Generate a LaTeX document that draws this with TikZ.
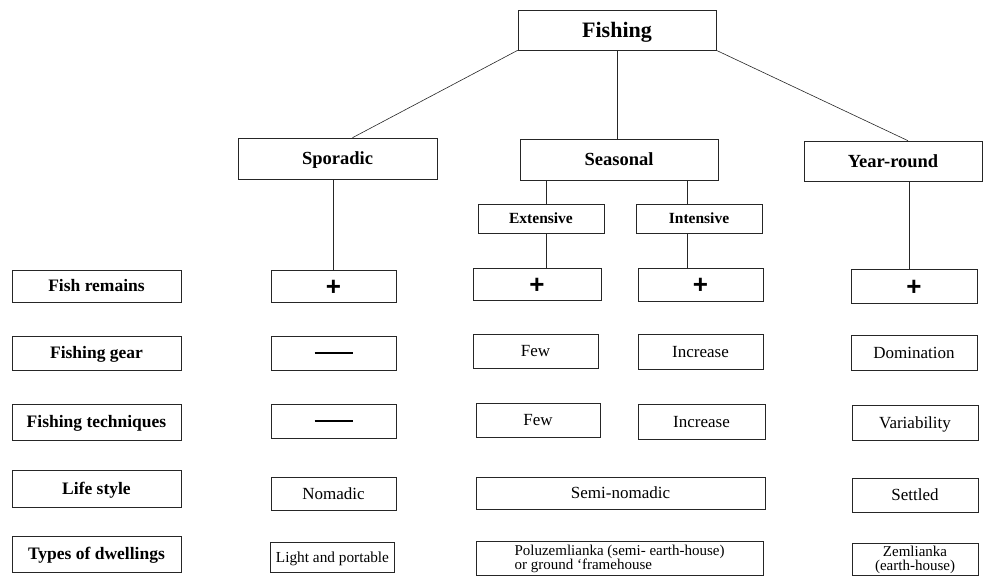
\documentclass[tikz,border=0pt]{standalone}
\usepackage{fontspec}
\setmainfont{Liberation Serif}
\setsansfont{Liberation Sans}

\tikzset{
  box/.style={draw=black!85,line width=0.6pt,rectangle,inner sep=0pt,text depth=0pt},
  head/.style={box,minimum height=41,text height=12.2pt,font=\fontsize{18.5}{20}\selectfont\bfseries},
  sub/.style={box,minimum width=126,minimum height=29,text height=10.2pt,font=\fontsize{15.5}{17}\selectfont\bfseries},
  rowlabel/.style={box,minimum width=169,minimum height=34,text height=11.5pt,font=\fontsize{17.5}{19}\selectfont\bfseries},
  cell/.style={box,minimum width=126,minimum height=34,text height=11.2pt,font=\fontsize{17}{19}\selectfont},
  twoline/.style={draw=black!85,line width=0.6pt,rectangle,inner sep=0pt,minimum width=126,font=\fontsize{15}{14.5}\selectfont},
  plus/.style={font=\fontsize{26}{26}\selectfont\sffamily\bfseries,text height=18.2pt},
  dashcell/.style={text height=1.6pt},
  link/.style={draw=black!85,line width=0.6pt}
}
\newcommand{\nodash}{\rule{38pt}{1.6pt}}
% two lines, first baseline #1 below the top of a box #1+#2 high
\newcommand{\twolines}[4]{\raisebox{0pt}[#1][#2]{\begin{tabular}[t]{@{}#3@{}}#4\end{tabular}}}

\begin{document}
\begin{tikzpicture}[x=1pt,y=-1pt]
  \useasboundingbox (0,0) rectangle (993,576);

  % tree
  \node[head,minimum width=198,minimum height=40,text height=14.5pt,font=\fontsize{22}{24}\selectfont\bfseries] (fishing) at (617,30) {Fishing};
  \node[head,minimum width=199] (sporadic) at (337.5,158.5) {Sporadic};
  \node[head,minimum width=198] (seasonal) at (619,159.5) {Seasonal};
  \node[head,minimum width=178,minimum height=40] (yearround) at (893,161) {Year-round};
  \node[sub] (extensive) at (541,218.5) {Extensive};
  \node[sub] (intensive) at (699,218.5) {Intensive};

  % row labels
  \node[rowlabel,minimum height=32] (remains) at (96.5,286) {Fish remains};
  \node[rowlabel] (gear) at (96.5,353) {Fishing gear};
  \node[rowlabel,minimum height=36] (techniques) at (96.5,422) {Fishing techniques};
  \node[rowlabel,minimum height=37] (lifestyle) at (96.5,488.5) {Life style};
  \node[rowlabel,minimum height=36] (dwellings) at (96.5,554) {Types of dwellings};

  % sporadic
  \node[cell,plus,minimum width=125,minimum height=32] (spor-remains) at (333.5,286) {+};
  \node[cell,dashcell,minimum width=125] (spor-gear) at (333.5,353) {\nodash};
  \node[cell,dashcell,minimum width=125] (spor-tech) at (333.5,421) {\nodash};
  \node[cell,minimum width=125,minimum height=33] (spor-life) at (333.5,493.5) {Nomadic};
  \node[cell,minimum width=124,minimum height=30,text height=10pt,font=\fontsize{15.3}{17}\selectfont] (spor-dwell) at (332.5,557) {Light and portable};

  % seasonal
  \node[cell,plus,minimum width=128,minimum height=32] (ext-remains) at (537,284) {+};
  \node[cell,minimum width=125] (ext-gear) at (535.5,351) {Few};
  \node[cell,minimum width=124] (ext-tech) at (538,420) {Few};
  \node[cell,plus,minimum width=125,minimum height=33] (int-remains) at (700.5,284.5) {+};
  \node[cell,minimum width=125,minimum height=35] (int-gear) at (700.5,351.5) {Increase};
  \node[cell,minimum width=127,minimum height=35] (int-tech) at (701.5,421.5) {Increase};
  \node[cell,minimum width=289,minimum height=32] (seas-life) at (620.5,493) {Semi-nomadic};
  \node[twoline,minimum width=287,minimum height=34] (seas-dwell) at (619.5,558)
    {\twolines{14pt}{20pt}{l}{Poluzemlianka (semi- earth-house)\\or ground ‘framehouse}};

  % year-round
  \node[cell,plus] (yr-remains) at (914,286) {+};
  \node[cell,minimum height=35] (yr-gear) at (914,352.5) {Domination};
  \node[cell,minimum height=35] (yr-tech) at (915,422.5) {Variability};
  \node[cell] (yr-life) at (915,495) {Settled};
  \node[twoline,minimum height=32] (yr-dwell) at (915,559) {\twolines{13pt}{19pt}{c}{Zemlianka\\(earth-house)}};

  % connectors
  \draw[link] (fishing.south west) -- ([xshift=15]sporadic.north);
  \draw[link] (fishing.south) -- (fishing.south |- seasonal.north);
  \draw[link] (fishing.south east) -- ([xshift=15]yearround.north);
  \draw[link] (spor-remains.north) -- (spor-remains.north |- sporadic.south);
  \draw[link] ([xshift=5]extensive.north) -- ([xshift=5]extensive.north |- seasonal.south);
  \draw[link] ([xshift=5]extensive.south) -- ([xshift=5]extensive.south |- ext-remains.north);
  \draw[link] ([xshift=-12]intensive.north) -- ([xshift=-12]intensive.north |- seasonal.south);
  \draw[link] ([xshift=-12]intensive.south) -- ([xshift=-12]intensive.south |- int-remains.north);
  \draw[link] ([xshift=-5]yr-remains.north) -- ([xshift=-5]yr-remains.north |- yearround.south);
\end{tikzpicture}
\end{document}
